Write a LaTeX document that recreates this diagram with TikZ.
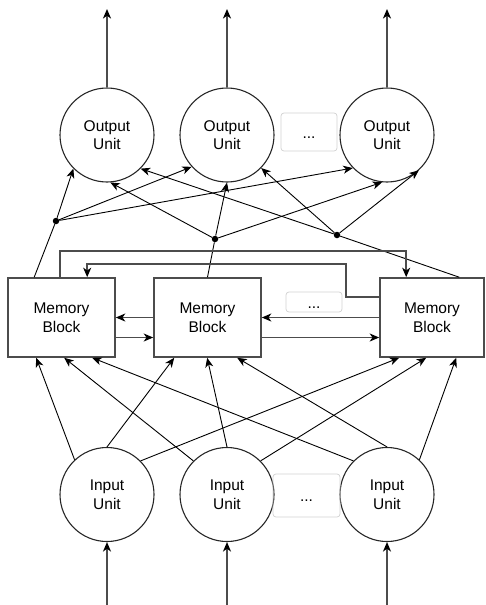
\documentclass[tikz,border=0pt]{standalone}
\usepackage{fontspec}
\setmainfont{Liberation Sans}
\usetikzlibrary{arrows.meta,calc}
\begin{document}
\begin{tikzpicture}[x=1pt,y=-1pt,
  unit/.style={circle,draw=black!85,line width=1.1pt,minimum size=94pt,inner sep=0pt,align=center,font=\fontsize{15.5}{18.5}\selectfont},
  block/.style={rectangle,draw=black!70,line width=1.6pt,minimum width=107pt,minimum height=79pt,inner sep=0pt,align=center,font=\fontsize{15.5}{18.5}\selectfont},
  ellbox/.style={rectangle,rounded corners=3pt,draw=black!18,line width=0.7pt,inner sep=0pt,text height=12pt,text depth=0pt,font=\fontsize{15.5}{18.5}\selectfont},
  jdot/.style={circle,fill=black,inner sep=0pt,minimum size=6.5pt},
  tip/.style={-{Stealth[length=9.5pt,width=8pt,inset=2.8pt,color=black]}},
  diag/.style={line width=0.9pt,black},
  ortho/.style={line width=1.8pt,black!70},
]
\useasboundingbox (0,0) rectangle (485,605);

% output units
\node[unit] (o1) at (107,135) {Output\\Unit};
\node[unit] (o2) at (227,135) {Output\\Unit};
\node[unit] (o3) at (387,135) {Output\\Unit};
\node[ellbox,minimum width=56pt,minimum height=38pt] (e1) at (309,132) {...};

% memory blocks
\node[block] (m1) at (61.5,317.5) {Memory\\Block};
\node[block] (m2) at (207.5,317.5) {Memory\\Block};
\node[block,minimum width=104pt] (m3) at (432,317.5) {Memory\\Block};
\node[ellbox,minimum width=56pt,minimum height=20pt] (e2) at (314,302) {...};

% input units
\node[unit] (i1) at (107,494.5) {Input\\Unit};
\node[unit] (i2) at (227,494.5) {Input\\Unit};
\node[unit] (i3) at (387,494.5) {Input\\Unit};
\node[ellbox,minimum width=67pt,minimum height=43pt] (e3) at (306.5,495.5) {...};

% junction dots
\node[jdot] (dA) at (56,221) {};
\node[jdot] (dB) at (215,239) {};
\node[jdot] (dC) at (337,235) {};

% external in/out arrows
\coordinate (ot1) at (107,9);
\coordinate (ot2) at (227,9);
\coordinate (ot3) at (387,9);
\coordinate (ib1) at (107,605);
\coordinate (ib2) at (227,605);
\coordinate (ib3) at (387,605);
\draw[ortho,tip] (o1) -- (ot1);
\draw[ortho,tip] (o2) -- (ot2);
\draw[ortho,tip] (o3) -- (ot3);
\draw[ortho,tip] (ib1) -- (i1);
\draw[ortho,tip] (ib2) -- (i2);
\draw[ortho,tip] (ib3) -- (i3);

% memory blocks to junctions
\draw[diag] ([xshift=27pt]m1.north west) -- (dA);
\draw[diag] (m2.north) -- (dB);
\draw[diag] ([xshift=80pt]m3.north west) -- (dC);

% junctions to outputs
\draw[diag,tip] (dA) -- (o1.-135);
\draw[diag,tip] (dA) -- (o2.-138);
\draw[diag,tip] (dA) -- (o3.-136);
\draw[diag,tip] (dB) -- (o1.-86);
\draw[diag,tip] (dB) -- (o2.-90);
\draw[diag,tip] (dB) -- (o3.-96);
\draw[diag,tip] (dC) -- (o1.-45);
\draw[diag,tip] (dC) -- (o2.-44);
\draw[diag,tip] (dC) -- (o3.-48);

% inputs to memory blocks
\draw[diag,tip] (i1.133) -- ([xshift=29pt]m1.south west);
\draw[diag,tip] (i1.90) -- ([xshift=21pt]m2.south west);
\draw[diag,tip] (i1.45) -- ([xshift=20pt]m3.south west);
\draw[diag,tip] (i2.135) -- ([xshift=57pt]m1.south west);
\draw[diag,tip] (i2.90) -- ([xshift=54pt]m2.south west);
\draw[diag,tip] (i2.45) -- ([xshift=47pt]m3.south west);
\draw[diag,tip] (i3.135) -- ([xshift=85pt]m1.south west);
\draw[diag,tip] (i3.90) -- ([xshift=84pt]m2.south west);
\draw[diag,tip] (i3.47) -- ([xshift=77pt]m3.south west);

% block-to-block connections
\draw[ortho,tip] (m2.west) -- (m1.east);
\draw[ortho,tip] ([yshift=-20pt]m1.east) -- ([yshift=-20pt]m2.west);
\draw[ortho,tip] (m3.west) -- (m2.east);
\draw[ortho,tip] ([yshift=-20pt]m2.east) -- ([yshift=-20pt]m3.west);

% recurrent feedback lines
\draw[ortho,tip] ([xshift=53pt]m1.north west) -- ++(0,-26) -| ([xshift=27pt]m3.north west);
\draw[ortho,tip] ([yshift=-20pt]m3.north west) -- ++(-33,0) -- ++(0,-33) -| ([xshift=80pt]m1.north west);
\end{tikzpicture}
\end{document}
